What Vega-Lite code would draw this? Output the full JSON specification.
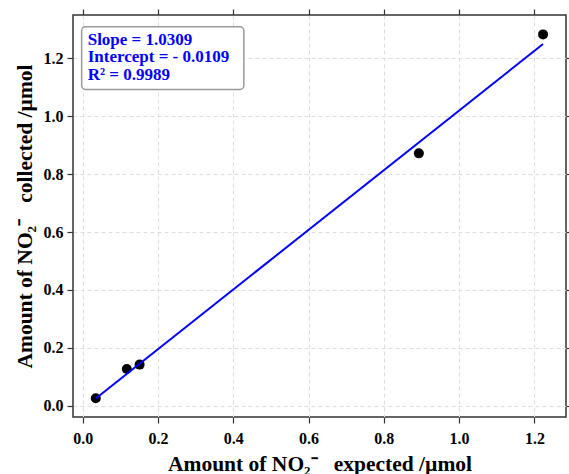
{
  "$schema": "https://vega.github.io/schema/vega-lite/v6.json",
  "width": 493,
  "height": 402,
  "autosize": "none",
  "padding": {"left": 73, "top": 15, "right": 3, "bottom": 57},
  "background": "white",
  "config": {
    "font": "Liberation Serif",
    "view": {"stroke": "#333333", "strokeWidth": 1.5},
    "axis": {
      "labelFont": "Liberation Serif",
      "labelFontWeight": "bold",
      "labelFontSize": 16,
      "labelColor": "black",
      "titleFont": "Liberation Serif",
      "titleFontWeight": "bold",
      "titleFontSize": 21.5,
      "titleColor": "black",
      "tickColor": "#333333",
      "tickSize": 6,
      "tickWidth": 1.2,
      "domain": false,
      "gridColor": "#dddddd",
      "gridDash": [4, 3],
      "gridWidth": 1
    }
  },
  "datasets": {
    "points": [
      {"expected": 0.0345, "collected": 0.026},
      {"expected": 0.117, "collected": 0.127},
      {"expected": 0.151, "collected": 0.142},
      {"expected": 0.893, "collected": 0.872},
      {"expected": 1.223, "collected": 1.283}
    ],
    "fit": [
      {"expected": 0.0345, "collected": 0.0247},
      {"expected": 1.223, "collected": 1.2499}
    ],
    "box": [
      {"x1": -0.003, "x2": 0.428, "y1": 1.093, "y2": 1.309}
    ],
    "note": [
      {"label": "Slope = 1.0309", "x": 0.013, "y": 1.248},
      {"label": "Intercept = - 0.0109", "x": 0.013, "y": 1.186},
      {"label": "R² = 0.9989", "x": 0.013, "y": 1.124}
    ]
  },
  "layer": [
    {
      "data": {"name": "points"},
      "mark": {"type": "point", "filled": true, "shape": "circle", "size": 100, "color": "black", "opacity": 1},
      "encoding": {
        "x": {
          "field": "expected", "type": "quantitative",
          "scale": {"domain": [-0.026, 1.284], "nice": false, "zero": false},
          "axis": {
            "orient": "bottom",
            "title": "Amount of NO₂⁻\u00a0\u00a0 expected /µmol",
            "values": [0, 0.2, 0.4, 0.6, 0.8, 1.0, 1.2],
            "format": ".1f",
            "grid": true,
            "labelPadding": 7,
            "titlePadding": 7
          }
        },
        "y": {
          "field": "collected", "type": "quantitative",
          "scale": {"domain": [-0.039, 1.35], "nice": false, "zero": false},
          "axis": {
            "orient": "left",
            "title": "Amount of NO₂⁻\u00a0\u00a0 collected /µmol",
            "values": [0, 0.2, 0.4, 0.6, 0.8, 1.0, 1.2],
            "format": ".1f",
            "grid": true,
            "labelPadding": 4,
            "titlePadding": 7
          }
        }
      }
    },
    {
      "data": {"name": "fit"},
      "mark": {"type": "line", "color": "#0000ff", "strokeWidth": 2},
      "encoding": {
        "x": {
          "field": "expected", "type": "quantitative",
          "axis": {"orient": "top", "labels": false, "title": null, "grid": false, "values": [0, 0.2, 0.4, 0.6, 0.8, 1.0, 1.2]}
        },
        "y": {
          "field": "collected", "type": "quantitative",
          "axis": {"orient": "right", "labels": false, "title": null, "grid": false, "values": [0, 0.2, 0.4, 0.6, 0.8, 1.0, 1.2]}
        }
      }
    },
    {
      "data": {"name": "box"},
      "mark": {"type": "rect", "fill": "white", "stroke": "#999999", "strokeWidth": 1.5, "cornerRadius": 4},
      "encoding": {
        "x": {"field": "x1", "type": "quantitative", "axis": null},
        "x2": {"field": "x2"},
        "y": {"field": "y1", "type": "quantitative", "axis": null},
        "y2": {"field": "y2"}
      }
    },
    {
      "data": {"name": "note"},
      "mark": {"type": "text", "align": "left", "baseline": "alphabetic", "font": "Liberation Serif", "fontWeight": "bold", "fontSize": 17, "color": "#0000ff"},
      "encoding": {
        "x": {"field": "x", "type": "quantitative", "axis": null},
        "y": {"field": "y", "type": "quantitative", "axis": null},
        "text": {"field": "label"}
      }
    }
  ]
}
